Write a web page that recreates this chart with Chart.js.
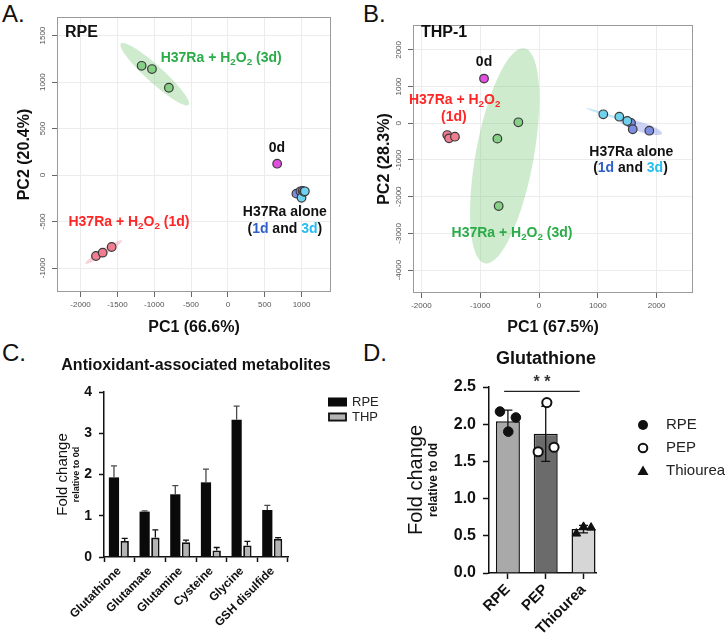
<!DOCTYPE html>
<html lang="en">
<head>
<meta charset="UTF-8" />
<title>PCA and glutathione</title>
<script src="https://cdn.jsdelivr.net/npm/chart.js"></script>
<style>
  body { margin: 0; background: #fff; width: 726px; height: 639px; position: relative; overflow: hidden;
         font-family: "Liberation Sans", Arial, sans-serif; }
  canvas { position: absolute; }
  .letter { position: absolute; font-size: 24px; line-height: 1; color: #111; }
</style>
</head>
<body>
  <div class="letter" style="left:2px;top:2px">A.</div>
  <div class="letter" style="left:363px;top:2px">B.</div>
  <div class="letter" style="left:2px;top:341px">C.</div>
  <div class="letter" style="left:363px;top:341px">D.</div>

  <canvas id="pcaRpe" width="363" height="338" style="left:0;top:0"></canvas>
  <canvas id="pcaThp" width="363" height="338" style="left:363px;top:0"></canvas>
  <canvas id="antiox" width="400" height="304" style="left:0;top:335px"></canvas>
  <canvas id="gsh" width="363" height="304" style="left:363px;top:335px"></canvas>

<script>
// ---- A / B: PCA scores [PC1, PC2] ----
const rpeH2o2Day3 = [[-1171, 1175], [-1031, 1140], [-801, 939]];
const rpeH2o2Day1 = [[-1791, -871], [-1700, -835], [-1578, -774]];
const rpeDay0 = [[669, 122]];
const rpeAloneDay1 = [[930, -200], [985, -175], [1015, -170]];
const rpeAloneDay3 = [[1000, -245], [1035, -180], [1045, -175]];
const rpePc1Ticks = [-2000, -1500, -1000, -500, 0, 500, 1000];
const rpePc2Ticks = [-1000, -500, 0, 500, 1000, 1500];

const thpH2o2Day3 = [[-351, 27], [-708, -418], [-686, -2255]];
const thpH2o2Day1 = [[-1560, -320], [-1530, -410], [-1430, -365]];
const thpDay0 = [[-935, 1218]];
const thpAloneDay1 = [[1565, 10], [1594, -163], [1876, -202]];
const thpAloneDay3 = [[1093, 245], [1366, 180], [1502, 63]];
const thpPc1Ticks = [-2000, -1000, 0, 1000, 2000];
const thpPc2Ticks = [-4000, -3000, -2000, -1000, 0, 1000, 2000];

// confidence ellipses: centre, two conjugate half axes (data units)
const rpeEllipses = [
  { group: 'day3', c: [-993, 1085], a: [466, -314], b: [0, 120] },
  { group: 'day1', c: [-1686, -828], a: [250, 122], b: [0, 38] }
];
const thpEllipses = [
  { group: 'day3', c: [-584, -887], a: [312, 2932], b: [500, 0] },
  { group: 'day1', c: [-1490, -364], a: [160, -40], b: [0, 50] },
  { group: 'alone1', c: [1735, -106], a: [357, -166], b: [0, 136] },
  { group: 'alone3', c: [1120, 250], a: [315, -160], b: [0, 35] }
];

// ---- C: antioxidant-associated metabolites ----
const metabolites = ['Glutathione', 'Glutamate', 'Glutamine', 'Cysteine', 'Glycine', 'GSH disulfide'];
const rpeFold = [1.93, 1.10, 1.52, 1.81, 3.33, 1.14];
const rpeSd = [0.28, 0.02, 0.21, 0.32, 0.33, 0.11];
const thpFold = [0.39, 0.47, 0.36, 0.16, 0.28, 0.44];
const thpSd = [0.06, 0.19, 0.05, 0.07, 0.10, 0.03];

// ---- D: glutathione ----
const gshGroups = ['RPE', 'PEP', 'Thiourea'];
const gshMean = [2.04, 1.87, 0.59];
const gshSd = [0.15, 0.37, 0.05];
const gshRpe = [2.17, 2.09, 1.90];
const gshPep = [2.29, 1.63, 1.69];
const gshThiourea = [0.53, 0.62, 0.61];
const rpeJitter = [-0.21, 0.21, 0.01];
const pepJitter = [0.03, -0.20, 0.22];
const thioJitter = [-0.19, 0.0, 0.20];
const sigPair = [0, 2];
const sigLevel = 2.44;

const FONT = '"Liberation Sans", Arial, sans-serif';
Chart.defaults.font.family = FONT;
Chart.defaults.color = '#111';

const GREEN = '#2bac48', RED = '#ff2626', BLUE1 = '#2f5fc8', BLUE3 = '#27bdf0';
const fills = { day3: '#86d086', day1: '#f07d90', day0: '#e24ee2', alone1: '#7d8ee2', alone3: '#6fd3ef' };
const ellipseFills = {
  day3: 'rgba(120,200,120,0.36)', day1: 'rgba(235,110,140,0.3)',
  alone1: 'rgba(110,125,225,0.35)', alone3: 'rgba(80,190,235,0.35)'
};

// text made of [text, colour, subscript?] parts
function richText(ctx, parts, x, y, size, align) {
  ctx.save();
  ctx.textBaseline = 'middle';
  ctx.textAlign = 'left';
  const f = sub => `bold ${sub ? size * 0.7 : size}px ${FONT}`;
  let total = 0;
  parts.forEach(p => { ctx.font = f(p[2]); total += ctx.measureText(p[0]).width; });
  let cx = align === 'center' ? x - total / 2 : (align === 'right' ? x - total : x);
  parts.forEach(p => {
    ctx.font = f(p[2]);
    ctx.fillStyle = p[1];
    ctx.fillText(p[0], cx, p[2] ? y + size * 0.28 : y);
    cx += ctx.measureText(p[0]).width;
  });
  ctx.restore();
}
const h2o2 = (pre, post, col) => [[pre + 'H', col], ['2', col, 1], ['O', col], ['2', col, 1], [post, col]];
const aloneDays = [['(', '#111'], ['1d', BLUE1], [' and ', '#111'], ['3d', BLUE3], [')', '#111']];
const fixedTicks = list => s => { s.ticks = list.map(v => ({ value: v })); };

function pcaChart(id, d) {
  const pts = (arr, fill) => ({
    data: arr.map(p => ({ x: p[0], y: p[1] })),
    pointBackgroundColor: fill, pointBorderColor: '#3a3a3a', pointBorderWidth: 1.2, pointRadius: 4.3
  });
  const decor = {
    id: 'decor',
    beforeDatasetsDraw(chart) {
      const { ctx, chartArea: ca, scales: { x, y } } = chart;
      ctx.save();
      ctx.beginPath(); ctx.rect(ca.left, ca.top, ca.width, ca.height); ctx.clip();
      d.ellipses.forEach(e => {
        ctx.beginPath();
        for (let i = 0; i <= 90; i++) {
          const t = i / 90 * Math.PI * 2;
          const px = x.getPixelForValue(e.c[0] + e.a[0] * Math.cos(t) + e.b[0] * Math.sin(t));
          const py = y.getPixelForValue(e.c[1] + e.a[1] * Math.cos(t) + e.b[1] * Math.sin(t));
          i ? ctx.lineTo(px, py) : ctx.moveTo(px, py);
        }
        ctx.closePath();
        ctx.fillStyle = ellipseFills[e.group];
        ctx.fill();
      });
      ctx.restore();
    },
    afterDraw(chart) {
      const { ctx, chartArea: ca, scales: { x, y } } = chart;
      ctx.save();
      ctx.strokeStyle = '#9a9a9a';
      ctx.lineWidth = 1;
      ctx.strokeRect(ca.left + 0.5, ca.top + 0.5, ca.width - 1, ca.height - 1);
      // y tick labels, turned like the original
      ctx.font = `8px ${FONT}`;
      ctx.fillStyle = '#555';
      ctx.textAlign = 'center';
      ctx.textBaseline = 'middle';
      y.ticks.forEach(t => {
        ctx.save();
        ctx.translate(ca.left - 14, y.getPixelForValue(t.value));
        ctx.rotate(-Math.PI / 2);
        ctx.fillText(String(t.value), 0, 0);
        ctx.restore();
      });
      ctx.restore();
      richText(ctx, [[d.cell, '#111']], ca.left + 8, 33, 16, 'left');
      d.notes.forEach(n => richText(ctx, n.parts, x.getPixelForValue(n.x), y.getPixelForValue(n.y), 14, 'center'));
    }
  };
  return new Chart(document.getElementById(id), {
    type: 'scatter',
    data: {
      datasets: [
        pts(d.alone3, fills.alone3), pts(d.alone1, fills.alone1), pts(d.day0, fills.day0),
        pts(d.day1, fills.day1), pts(d.day3, fills.day3)
      ]
    },
    options: {
      responsive: false, animation: false,
      layout: { padding: d.pad },
      plugins: { legend: { display: false }, tooltip: { enabled: false } },
      scales: {
        x: {
          type: 'linear', min: d.xr[0], max: d.xr[1],
          afterFit: s => { s.height = d.xh; },
          afterBuildTicks: fixedTicks(d.xticks),
          ticks: { maxRotation: 0, padding: 3, font: { size: 8 }, color: '#555', callback: v => String(v) },
          grid: { color: '#ececec', tickColor: '#666', tickLength: 5 },
          border: { display: false },
          title: { display: true, text: d.xt, font: { size: 16, weight: 'bold' }, padding: { top: 0, bottom: 1 } }
        },
        y: {
          type: 'linear', min: d.yr[0], max: d.yr[1],
          afterFit: s => { s.width = d.yw; },
          afterBuildTicks: fixedTicks(d.yticks),
          ticks: { color: 'rgba(0,0,0,0)', font: { size: 8 } },
          grid: { color: '#ececec', tickColor: '#666', tickLength: 5 },
          border: { display: false },
          title: { display: true, text: d.yt, font: { size: 16, weight: 'bold' }, padding: { top: d.ytp, bottom: 0 } }
        }
      }
    },
    plugins: [decor]
  });
}

pcaChart('pcaRpe', {
  day3: rpeH2o2Day3, day1: rpeH2o2Day1, day0: rpeDay0, alone1: rpeAloneDay1, alone3: rpeAloneDay3,
  ellipses: rpeEllipses, cell: 'RPE',
  xr: [-2320, 1400], yr: [-1258, 1700], xticks: rpePc1Ticks, yticks: rpePc2Ticks,
  pad: { top: 17, right: 32, left: 0, bottom: 0 }, xh: 46, yw: 57, ytp: 15,
  xt: 'PC1 (66.6%)', yt: 'PC2 (20.4%)',
  notes: [
    { x: -91, y: 1258, parts: h2o2('H37Ra + ', ' (3d)', GREEN) },
    { x: -1343, y: -505, parts: h2o2('H37Ra + ', ' (1d)', RED) },
    { x: 665, y: 290, parts: [['0d', '#111']] },
    { x: 773, y: -398, parts: [['H37Ra alone', '#111']] },
    { x: 773, y: -581, parts: aloneDays }
  ]
});

pcaChart('pcaThp', {
  day3: thpH2o2Day3, day1: thpH2o2Day1, day0: thpDay0, alone1: thpAloneDay1, alone3: thpAloneDay3,
  ellipses: thpEllipses, cell: 'THP-1',
  xr: [-2143, 2619], yr: [-4624, 2678], xticks: thpPc1Ticks, yticks: thpPc2Ticks,
  pad: { top: 25, right: 33, left: 0, bottom: 0 }, xh: 45, yw: 50, ytp: 12,
  xt: 'PC1 (67.5%)', yt: 'PC2 (28.3%)',
  notes: [
    { x: -935, y: 1670, parts: [['0d', '#111']] },
    { x: -1434, y: 635, parts: h2o2('H37Ra + ', '', RED) },
    { x: -1449, y: 172, parts: [['(1d)', RED]] },
    { x: -459, y: -2994, parts: h2o2('H37Ra + ', ' (3d)', GREEN) },
    { x: 1570, y: -782, parts: [['H37Ra alone', '#111']] },
    { x: 1556, y: -1218, parts: aloneDays }
  ]
});

// rotated two-line y title: big "Fold change", small bold "relative to 0d"
function foldTitle(chart, dxBig, dxSmall, big, small) {
  const { ctx, chartArea: ca } = chart;
  const cy = (ca.top + ca.bottom) / 2;
  [[dxBig, `${big}px ${FONT}`, 'Fold change'], [dxSmall, `bold ${small}px ${FONT}`, 'relative to 0d']].forEach(t => {
    ctx.save();
    ctx.textAlign = 'center';
    ctx.textBaseline = 'middle';
    ctx.fillStyle = '#111';
    ctx.translate(t[0], cy);
    ctx.rotate(-Math.PI / 2);
    ctx.font = t[1];
    ctx.fillText(t[2], 0, 0);
    ctx.restore();
  });
}

const antioxExtras = {
  id: 'antioxExtras',
  afterDatasetsDraw(chart) {
    const { ctx, scales: { y } } = chart;
    [[rpeFold, rpeSd, '#4a4a4a'], [thpFold, thpSd, '#111']].forEach((s, i) => {
      chart.getDatasetMeta(i).data.forEach((bar, j) => {
        const base = y.getPixelForValue(s[0][j]);
        const top = y.getPixelForValue(s[0][j] + s[1][j]);
        ctx.save();
        ctx.strokeStyle = s[2];
        ctx.lineWidth = 1.3;
        ctx.beginPath();
        ctx.moveTo(bar.x, base); ctx.lineTo(bar.x, top);
        ctx.moveTo(bar.x - 3, top); ctx.lineTo(bar.x + 3, top);
        ctx.stroke();
        ctx.restore();
      });
    });
  },
  afterDraw(chart) {
    const { ctx, chartArea: ca } = chart;
    ctx.save();
    ctx.font = `bold 16px ${FONT}`;
    ctx.fillStyle = '#111';
    ctx.textAlign = 'center';
    ctx.textBaseline = 'middle';
    ctx.fillText('Antioxidant-associated metabolites', (ca.left + ca.right) / 2, 31);
    // legend
    chart.data.datasets.forEach((ds, i) => {
      const ly = ca.top + 10 + i * 15;
      ctx.fillStyle = ds.backgroundColor;
      ctx.fillRect(ca.right + 40, ly - 4.5, 19, 9);
      if (ds.borderWidth) {
        ctx.strokeStyle = '#111'; ctx.lineWidth = 1.8;
        ctx.strokeRect(ca.right + 41, ly - 3.5, 17, 7);
      }
      ctx.fillStyle = '#222';
      ctx.font = `13px ${FONT}`;
      ctx.textAlign = 'left';
      ctx.fillText(ds.label, ca.right + 64, ly);
    });
    ctx.restore();
    foldTitle(chart, 63, 77, 15, 9);
  }
};

new Chart(document.getElementById('antiox'), {
  type: 'bar',
  data: {
    labels: metabolites,
    datasets: [
      { label: 'RPE', data: rpeFold, backgroundColor: '#0a0a0a', borderWidth: 0,
        barPercentage: 0.95, categoryPercentage: 0.7 },
      { label: 'THP', data: thpFold, backgroundColor: '#b4b4b4', borderColor: '#111', borderWidth: 1.8,
        barPercentage: 0.78, categoryPercentage: 0.7 }
    ]
  },
  options: {
    responsive: false, animation: false,
    layout: { padding: { top: 57, right: 112, left: 0, bottom: 0 } },
    plugins: { legend: { display: false }, tooltip: { enabled: false } },
    scales: {
      x: {
        afterFit: s => { s.height = 82; },
        ticks: { autoSkip: false, minRotation: 45, maxRotation: 45, padding: 2,
                 font: { size: 12, weight: 'bold' }, color: '#111' },
        grid: { drawOnChartArea: false, tickLength: 5, tickColor: '#111', tickWidth: 1.5 },
        border: { color: '#111', width: 1.5 }
      },
      y: {
        min: 0, max: 4,
        afterFit: s => { s.width = 104; },
        ticks: { stepSize: 1, padding: 7, font: { size: 14, weight: 'bold' }, color: '#111' },
        grid: { drawOnChartArea: false, tickLength: 5, tickColor: '#111', tickWidth: 1.5 },
        border: { color: '#111', width: 1.5 }
      }
    }
  },
  plugins: [antioxExtras]
});

const gshExtras = {
  id: 'gshExtras',
  afterDatasetDraw(chart, args) {
    if (args.index !== 0) return;
    const { ctx, scales: { x, y } } = chart;
    ctx.save();
    ctx.strokeStyle = '#111';
    ctx.lineWidth = 1.3;
    gshMean.forEach((m, i) => {
      const px = x.getPixelForValue(i);
      const lo = y.getPixelForValue(m - gshSd[i]), hi = y.getPixelForValue(m + gshSd[i]);
      ctx.beginPath();
      ctx.moveTo(px, lo); ctx.lineTo(px, hi);
      ctx.moveTo(px - 4.5, lo); ctx.lineTo(px + 4.5, lo);
      ctx.moveTo(px - 4.5, hi); ctx.lineTo(px + 4.5, hi);
      ctx.stroke();
    });
    ctx.restore();
  },
  afterDraw(chart) {
    const { ctx, chartArea: ca, scales: { x, y } } = chart;
    ctx.save();
    // significance bracket
    const sy = y.getPixelForValue(sigLevel);
    const x1 = x.getPixelForValue(sigPair[0] - 0.1), x2 = x.getPixelForValue(sigPair[1] - 0.1);
    ctx.strokeStyle = '#222'; ctx.lineWidth = 1.3;
    ctx.beginPath(); ctx.moveTo(x1, sy); ctx.lineTo(x2, sy); ctx.stroke();
    ctx.fillStyle = '#333';
    ctx.font = `bold 16px ${FONT}`;
    ctx.textAlign = 'center';
    ctx.textBaseline = 'middle';
    ctx.fillText('* *', (x1 + x2) / 2, sy - 9);
    // title
    ctx.fillStyle = '#111';
    ctx.font = `bold 18px ${FONT}`;
    ctx.fillText('Glutathione', 183, 24);
    // legend
    const lx = ca.right + 47;
    gshGroups.forEach((g, i) => {
      const ly = ca.top + 38 + i * 23;
      ctx.fillStyle = '#111'; ctx.strokeStyle = '#111'; ctx.lineWidth = 2;
      ctx.beginPath();
      if (i === 2) {
        ctx.moveTo(lx, ly - 5.5); ctx.lineTo(lx + 5.5, ly + 4); ctx.lineTo(lx - 5.5, ly + 4); ctx.closePath(); ctx.fill();
      } else {
        ctx.arc(lx, ly, i === 0 ? 5 : 4.3, 0, Math.PI * 2);
        i === 0 ? ctx.fill() : ctx.stroke();
      }
      ctx.fillStyle = '#222';
      ctx.font = `15px ${FONT}`;
      ctx.textAlign = 'left';
      ctx.fillText(g, lx + 23, ly);
    });
    ctx.restore();
    foldTitle(chart, 53, 71, 20, 12);
  }
};

const jittered = (vals, gi, jit) => vals.map((v, k) => ({ x: gi + jit[k], y: v }));

new Chart(document.getElementById('gsh'), {
  type: 'bar',
  data: {
    datasets: [
      { type: 'bar', data: gshMean.map((v, i) => ({ x: i, y: v })),
        backgroundColor: ['#a9a9a9', '#6b6b6b', '#d6d6d6'], borderColor: '#111', borderWidth: 1.5,
        barPercentage: 0.635, categoryPercentage: 1, order: 2 },
      { type: 'scatter', data: jittered(gshRpe, 0, rpeJitter), pointStyle: 'circle', pointRadius: 4.8,
        pointBackgroundColor: '#111', pointBorderColor: '#111', pointBorderWidth: 1, order: 1 },
      { type: 'scatter', data: jittered(gshPep, 1, pepJitter), pointStyle: 'circle', pointRadius: 4.6,
        pointBackgroundColor: '#fff', pointBorderColor: '#111', pointBorderWidth: 2, order: 1 },
      { type: 'scatter', data: jittered(gshThiourea, 2, thioJitter), pointStyle: 'triangle', pointRadius: 5,
        pointBackgroundColor: '#111', pointBorderColor: '#111', pointBorderWidth: 1, order: 1 }
    ]
  },
  options: {
    responsive: false, animation: false,
    layout: { padding: { top: 52, right: 130, left: 0, bottom: 0 } },
    plugins: { legend: { display: false }, tooltip: { enabled: false } },
    scales: {
      x: {
        type: 'linear', min: -0.5, max: 2.33, offset: false,
        afterFit: s => { s.height = 66; },
        afterBuildTicks: fixedTicks(gshGroups.map((g, i) => i)),
        ticks: { minRotation: 45, maxRotation: 45, padding: 2, font: { size: 15, weight: 'bold' }, color: '#111',
                 callback: v => gshGroups[v] },
        grid: { offset: false, drawOnChartArea: false, tickLength: 6, tickColor: '#111', tickWidth: 1.5 },
        border: { color: '#111', width: 1.5 }
      },
      y: {
        min: 0, max: 2.5,
        afterFit: s => { s.width = 126; },
        ticks: { stepSize: 0.5, padding: 7, font: { size: 16, weight: 'bold' }, color: '#111',
                 callback: v => v.toFixed(1) },
        grid: { drawOnChartArea: false, tickLength: 6, tickColor: '#111', tickWidth: 1.5 },
        border: { color: '#111', width: 1.5 }
      }
    }
  },
  plugins: [gshExtras]
});
</script>
</body>
</html>
